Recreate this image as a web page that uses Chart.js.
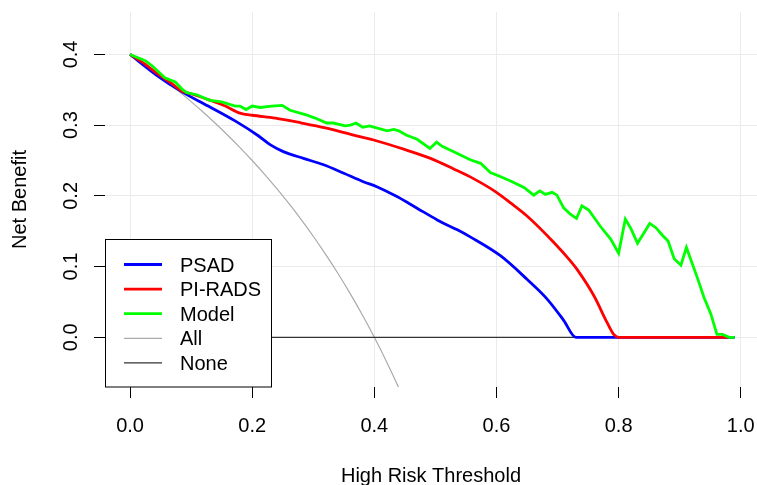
<!DOCTYPE html>
<html>
<head>
<meta charset="utf-8">
<script src="https://cdn.jsdelivr.net/npm/chart.js@4/dist/chart.umd.min.js"></script>
<style>
  html, body { margin: 0; padding: 0; background: #fff; }
  canvas { display: block; }
</style>
</head>
<body>
<canvas id="dcaChart" width="757" height="485"></canvas>
<script>
// thresholds and net benefit
const psadX = [0, 0.046, 0.085, 0.128, 0.172, 0.21, 0.23, 0.251, 0.284, 0.317, 0.35, 0.382, 0.404, 0.437, 0.47, 0.503, 0.514, 0.536, 0.557, 0.607, 0.65, 0.683, 0.71, 0.73, 0.99];
const psadY = [0.4, 0.369, 0.347, 0.327, 0.306, 0.285, 0.272, 0.2625, 0.253, 0.244, 0.232, 0.22, 0.213, 0.199, 0.1825, 0.166, 0.161, 0.152, 0.142, 0.115, 0.082, 0.054, 0.024, 0, 0];

const piradsX = [0, 0.025, 0.046, 0.068, 0.085, 0.101, 0.128, 0.156, 0.18, 0.2, 0.238, 0.281, 0.32, 0.366, 0.399, 0.448, 0.492, 0.53, 0.563, 0.6, 0.623, 0.65, 0.694, 0.721, 0.732, 0.76, 0.781, 0.792, 0.8, 0.98];
const piradsY = [0.4, 0.386, 0.372, 0.359, 0.348, 0.344, 0.336, 0.327, 0.317, 0.314, 0.31, 0.303, 0.296, 0.286, 0.279, 0.266, 0.253, 0.238, 0.224, 0.205, 0.19, 0.1715, 0.134, 0.108, 0.096, 0.058, 0.021, 0.004, 0, 0];

const modelX = [0, 0.025, 0.036, 0.057, 0.074, 0.085, 0.093, 0.109, 0.131, 0.15, 0.172, 0.18, 0.19, 0.2, 0.213, 0.232, 0.249, 0.262, 0.287, 0.303, 0.322, 0.333, 0.352, 0.361, 0.37, 0.381, 0.392, 0.421, 0.432, 0.44, 0.452, 0.47, 0.491, 0.502, 0.511, 0.536, 0.557, 0.574, 0.59, 0.607, 0.623, 0.645, 0.661, 0.671, 0.68, 0.691, 0.699, 0.71, 0.721, 0.731, 0.74, 0.751, 0.77, 0.787, 0.8, 0.811, 0.82, 0.831, 0.851, 0.861, 0.872, 0.881, 0.891, 0.902, 0.911, 0.929, 0.94, 0.951, 0.961, 0.97, 0.981, 0.99];
const modelY = [0.4, 0.391, 0.384, 0.367, 0.361, 0.351, 0.346, 0.343, 0.335, 0.333, 0.327, 0.327, 0.322, 0.327, 0.325, 0.327, 0.328, 0.321, 0.315, 0.31, 0.303, 0.303, 0.299, 0.3, 0.303, 0.297, 0.299, 0.292, 0.294, 0.292, 0.286, 0.28, 0.267, 0.276, 0.27, 0.26, 0.251, 0.246, 0.233, 0.227, 0.221, 0.212, 0.201, 0.207, 0.202, 0.205, 0.201, 0.183, 0.174, 0.168, 0.186, 0.18, 0.157, 0.139, 0.119, 0.167, 0.154, 0.133, 0.161, 0.155, 0.144, 0.136, 0.111, 0.102, 0.127, 0.084, 0.056, 0.033, 0.004, 0.004, 0, 0];

const allX = [0, 0.02, 0.04, 0.06, 0.08, 0.1, 0.12, 0.14, 0.16, 0.18, 0.2, 0.22, 0.24, 0.26, 0.28, 0.3, 0.32, 0.34, 0.36, 0.38, 0.4, 0.42, 0.44, 0.46];
const allY = [0.4, 0.3878, 0.375, 0.3617, 0.3478, 0.3333, 0.3182, 0.3023, 0.2857, 0.2683, 0.25, 0.2308, 0.2105, 0.1892, 0.1667, 0.1429, 0.1176, 0.0909, 0.0625, 0.0323, 0, -0.0345, -0.0714, -0.1111];

const noneX = [0, 0.99];
const noneY = [0, 0];

const xTicks = [0, 0.2, 0.4, 0.6, 0.8, 1.0];
const yTicks = [0, 0.1, 0.2, 0.3, 0.4];
const legendLabels = ['PSAD', 'PI-RADS', 'Model', 'All', 'None'];

function toPoints(xs, ys) {
  return xs.map((x, i) => ({ x: x, y: ys[i] }));
}

const FONT = 'Liberation Sans, Arial, Helvetica, sans-serif';

// legend box drawn inside the plot, bottom left like R's legend()
const boxLegend = {
  id: 'boxLegend',
  afterDatasetsDraw(chart) {
    const ctx = chart.ctx;
    const area = chart.chartArea;
    const left = area.left + 0.5, top = 239.5, right = 271.5, bottom = area.bottom;
    ctx.save();
    ctx.fillStyle = '#ffffff';
    ctx.fillRect(left, top, right - left, bottom - top);
    ctx.strokeStyle = '#000000';
    ctx.lineWidth = 1;
    ctx.strokeRect(left, top, right - left, bottom - top);
    ctx.font = '20px ' + FONT;
    ctx.textBaseline = 'alphabetic';
    ctx.textAlign = 'left';
    legendLabels.forEach((lab, i) => {
      const ds = chart.data.datasets.find(d => d.label === lab);
      const y = 264.5 + i * 24.6;
      ctx.strokeStyle = ds.borderColor;
      ctx.lineWidth = ds.borderWidth;
      ctx.beginPath();
      ctx.moveTo(124, y);
      ctx.lineTo(162, y);
      ctx.stroke();
      ctx.fillStyle = '#000000';
      ctx.fillText(lab, 180, y + 7);
    });
    ctx.restore();
  }
};

const ctx = document.getElementById('dcaChart').getContext('2d');
const dcaChart = new Chart(ctx, {
  type: 'line',
  data: {
    datasets: [
      { label: 'Model', data: toPoints(modelX, modelY), borderColor: '#00ff00', borderWidth: 2.8, tension: 0, order: 0 },
      { label: 'PI-RADS', data: toPoints(piradsX, piradsY), borderColor: '#ff0000', borderWidth: 2.8, cubicInterpolationMode: 'monotone', order: 1 },
      { label: 'PSAD', data: toPoints(psadX, psadY), borderColor: '#0000ff', borderWidth: 2.8, cubicInterpolationMode: 'monotone', order: 2 },
      { label: 'None', data: toPoints(noneX, noneY), borderColor: '#333333', borderWidth: 1.2, order: 3 },
      { label: 'All', data: toPoints(allX, allY), borderColor: '#aaaaaa', borderWidth: 1.2, cubicInterpolationMode: 'monotone', order: 4 }
    ]
  },
  options: {
    responsive: false,
    animation: false,
    elements: {
      point: { radius: 0 },
      line: { fill: false }
    },
    layout: {
      padding: { top: 12, right: 0, bottom: 0, left: 0 }
    },
    scales: {
      x: {
        type: 'linear',
        min: -0.041,
        max: 1.0266,
        afterBuildTicks: (scale) => { scale.ticks = xTicks.map(v => ({ value: v })); },
        afterFit: (scale) => {
          scale.height = 98;
          scale.paddingLeft = 0;
          scale.paddingRight = 0;
        },
        border: { display: false },
        grid: { color: '#ebebeb', lineWidth: 1, tickColor: '#000000', tickLength: 11, tickWidth: 1 },
        ticks: {
          autoSkip: false,
          maxRotation: 0,
          padding: 16,
          color: '#000000',
          font: { family: FONT, size: 20 },
          callback: (v) => v.toFixed(1)
        },
        title: {
          display: true,
          text: 'High Risk Threshold',
          color: '#000000',
          font: { family: FONT, size: 20, lineHeight: 0.9 },
          padding: { top: 0, bottom: 0 }
        }
      },
      y: {
        type: 'linear',
        min: -0.0703,
        max: 0.46,
        afterBuildTicks: (scale) => { scale.ticks = yTicks.map(v => ({ value: v })); },
        afterFit: (scale) => {
          scale.width = 105;
          scale.paddingTop = 0;
          scale.paddingBottom = 0;
        },
        border: { display: false },
        grid: { color: '#ebebeb', lineWidth: 1, tickColor: '#000000', tickLength: 11, tickWidth: 1 },
        ticks: {
          autoSkip: false,
          minRotation: 90,
          maxRotation: 90,
          crossAlign: 'center',
          padding: 8.6,
          color: '#000000',
          font: { family: FONT, size: 20 },
          callback: (v) => v.toFixed(1)
        },
        title: {
          display: true,
          text: 'Net Benefit',
          color: '#000000',
          font: { family: FONT, size: 20, lineHeight: 1.2 },
          padding: { top: 8.5, bottom: 0 }
        }
      }
    },
    plugins: {
      legend: { display: false },
      tooltip: { enabled: false }
    }
  },
  plugins: [boxLegend]
});
</script>
</body>
</html>
